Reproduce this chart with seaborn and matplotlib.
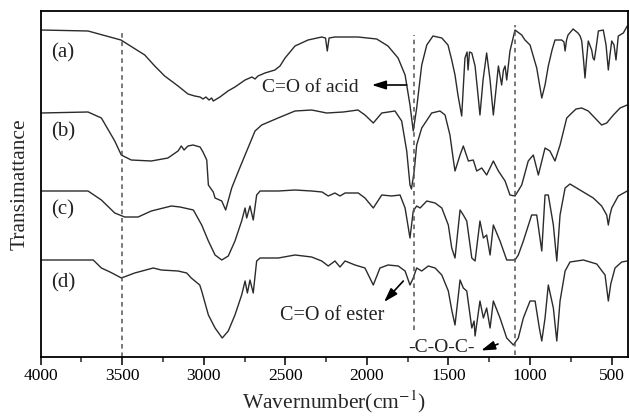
import matplotlib
matplotlib.use("Agg")
import matplotlib.pyplot as plt
import seaborn as sns
import pandas as pd
from matplotlib.ticker import MultipleLocator

# ---------------- data (transmittance in a.u.) ----------------
wn_a = [4000, 3710, 3508, 3362, 3301, 3240, 3158, 3097, 3056, 3023, 3005, 2987, 2968, 2952, 2942,
        2901, 2852, 2809, 2747, 2705, 2686, 2668, 2625, 2564, 2533, 2502, 2441, 2361, 2277, 2254,
        2243, 2232, 2196, 2055, 1940, 1871, 1809, 1766, 1736, 1716, 1695, 1664, 1633, 1595, 1541,
        1503, 1480, 1460, 1442, 1419, 1399, 1386, 1380, 1371, 1357, 1337, 1322, 1307, 1288, 1266,
        1245, 1225, 1209, 1194, 1174, 1163, 1153, 1143, 1123, 1092, 1051, 1031, 1000, 959, 928,
        908, 888, 865, 847, 806, 792, 785, 776, 767, 736, 706, 693, 683, 672, 663, 654, 643, 622,
        614, 606, 595, 581, 551, 534, 520, 510, 499, 485, 473, 459, 428, 404]
t_a = [327, 326, 317, 302, 291, 281, 271, 263, 261, 260, 258, 260, 257, 259, 256,
       260, 266, 270, 277, 280, 278, 281, 284, 287, 291, 299, 311, 317, 320, 319,
       306, 319, 320, 320, 318, 311, 299, 282, 252, 226, 249, 292, 312, 321, 319,
       312, 297, 282, 262, 241, 299, 305, 287, 305, 304, 291, 267, 242, 277, 304,
       277, 242, 267, 291, 272, 287, 291, 277, 306, 327, 322, 317, 312, 289, 259,
       272, 291, 307, 317, 317, 315, 306, 317, 322, 328, 324, 321, 316, 297, 279, 297, 316, 307,
       299, 297, 309, 326, 327, 312, 287, 302, 316, 312, 297, 321, 324, 331]

wn_b = [4000, 3710, 3628, 3546, 3506, 3445, 3322, 3220, 3158, 3138, 3121, 3097, 3066, 3023, 3005,
        2982, 2972, 2942, 2931, 2890, 2866, 2829, 2790, 2747, 2686, 2645, 2545, 2441, 2339, 2247,
        2145, 2055, 2012, 1961, 1909, 1828, 1787, 1756, 1736, 1727, 1710, 1695, 1664, 1603, 1552,
        1521, 1491, 1470, 1460, 1429, 1409, 1378, 1348, 1327, 1296, 1266, 1225, 1194, 1153, 1123,
        1092, 1051, 1011, 980, 949, 908, 878, 847, 816, 775, 744, 718, 683, 643, 602, 561, 530,
        489, 448, 404]
t_b = [244, 245, 239, 216, 202, 197, 196, 199, 206, 211, 207, 211, 212, 210, 205,
       197, 172, 165, 159, 156, 147, 169, 185, 202, 226, 232, 239, 246, 247, 244,
       245, 247, 242, 234, 244, 246, 236, 206, 172, 168, 186, 212, 229, 244, 246,
       242, 222, 197, 186, 202, 211, 196, 197, 186, 189, 182, 196, 186, 176, 162,
       161, 172, 196, 202, 182, 209, 206, 196, 212, 239, 244, 248, 249, 246, 239, 232, 234,
       242, 249, 252]

wn_c = [4000, 3710, 3628, 3546, 3485, 3403, 3322, 3199, 3146, 3064, 3013, 2972, 2931, 2890, 2850,
        2809, 2768, 2747, 2737, 2717, 2697, 2676, 2655, 2543, 2441, 2339, 2275, 2237, 2196, 2165,
        2134, 2053, 2012, 1961, 1909, 1848, 1797, 1766, 1746, 1736, 1716, 1695, 1674, 1633, 1582,
        1541, 1501, 1480, 1460, 1429, 1409, 1388, 1357, 1337, 1307, 1286, 1266, 1245, 1225, 1184,
        1143, 1092, 1072, 1041, 990, 959, 928, 908, 888, 857, 836, 816, 785, 755, 694, 612, 561,
        530, 520, 510, 499, 459, 404]
t_c = [166, 166, 157, 144, 140, 140, 146, 151, 150, 147, 132, 116, 102, 97, 101,
       116, 136, 149, 139, 151, 137, 162, 166, 166, 167, 166, 165, 161, 164, 161,
       164, 164, 159, 149, 162, 161, 162, 149, 129, 119, 146, 151, 149, 156, 154,
       149, 132, 109, 99, 147, 142, 136, 99, 96, 136, 119, 122, 102, 132, 116,
       97, 97, 102, 116, 142, 142, 106, 162, 162, 132, 96, 142, 169, 173, 167, 159, 151,
       142, 132, 142, 149, 161, 166]

wn_d = [4000, 3678, 3628, 3575, 3505, 3424, 3310, 3261, 3158, 3105, 3077, 3025, 3013, 2972, 2931,
        2887, 2850, 2809, 2768, 2747, 2733, 2717, 2697, 2676, 2655, 2543, 2441, 2339, 2277, 2237,
        2196, 2165, 2134, 2073, 2012, 1961, 1920, 1871, 1808, 1766, 1736, 1716, 1695, 1664, 1624,
        1582, 1541, 1501, 1480, 1460, 1429, 1409, 1388, 1357, 1343, 1337, 1307, 1286, 1266, 1245,
        1225, 1184, 1143, 1102, 1072, 1041, 1000, 969, 943, 928, 908, 888, 857, 836, 816, 785,
        755, 673, 591, 540, 520, 505, 479, 438, 404]
t_d = [97, 97, 89, 85, 79, 84, 89, 87, 86, 84, 79, 72, 66, 42, 29,
       19, 26, 42, 62, 76, 64, 77, 64, 96, 99, 99, 102, 100, 96, 91,
       96, 90, 96, 92, 89, 72, 89, 92, 91, 86, 72, 79, 89, 86, 91,
       89, 82, 66, 47, 32, 77, 69, 66, 29, 36, 21, 56, 39, 49, 29,
       56, 39, 19, 12, 19, 39, 56, 56, 29, 16, 39, 72, 49, 16, 56, 86,
       95, 97, 93, 82, 56, 73, 89, 95, 96]

series_labels = ["(a)", "(b)", "(c)", "(d)"]
label_t = [304, 225, 147, 74]
dashed_wn = [3500, 1710, 1095]
dashed_top = [325, 322, 332]
dashed_bottom = [0, 27, 2]
xticks = [4000, 3500, 3000, 2500, 2000, 1500, 1000, 500]

# ---------------- plotting ----------------
sns.set_theme(style="ticks")
plt.rcParams["font.family"] = ["Liberation Serif", "DejaVu Serif"]
plt.rcParams["mathtext.fontset"] = "stix"

fig = plt.figure(figsize=(6.30, 4.16), dpi=100)
ax = fig.add_axes([40.7 / 630, 59 / 416, 587.2 / 630, 346 / 416])

line_color = "#2b2b2b"
for wn, t in [(wn_a, t_a), (wn_b, t_b), (wn_c, t_c), (wn_d, t_d)]:
    df = pd.DataFrame({"wn": wn, "t": t})
    sns.lineplot(data=df, x="wn", y="t", ax=ax, color=line_color, linewidth=1.0,
                 estimator=None, sort=False)

for w, top, bot in zip(dashed_wn, dashed_top, dashed_bottom):
    ax.plot([w, w], [bot, top], linestyle=(0, (3, 2.5)), color="#555555", linewidth=1.1)

for lab, yv in zip(series_labels, label_t):
    ax.text(3935, yv, lab, fontsize=15, ha="left", va="center", color="#222222")

arrow_kw = dict(arrowstyle="-|>,head_length=0.7,head_width=0.22", color="black", lw=1.2,
                shrinkA=0, shrinkB=0)
ax.text(2643, 269, "C=O of acid", fontsize=14, ha="left", va="center", color="#222222")
ax.annotate("", xy=(1970, 272), xytext=(1756, 272), arrowprops=arrow_kw)
ax.text(2532, 42, "C=O of ester", fontsize=14.5, ha="left", va="center", color="#222222")
ax.annotate("", xy=(1895, 55), xytext=(1777, 76), arrowprops=arrow_kw)
ax.text(1748, 9.5, "-C-O-C-", fontsize=14, ha="left", va="center", color="#222222")
ax.annotate("", xy=(1300, 6.5), xytext=(1196, 13), arrowprops=arrow_kw)

ax.set_xlim(4000, 400)
ax.set_ylim(0, 346)
ax.set_xticks(xticks)
ax.set_xticklabels([str(v) for v in xticks])
ax.xaxis.set_minor_locator(MultipleLocator(250))
ax.tick_params(axis="x", which="major", direction="out", length=6, width=1.1,
               labelsize=12.5, pad=2, colors="black")
ax.tick_params(axis="x", which="minor", direction="out", length=3.5, width=1.1)
ax.set_yticks([])
for s in ax.spines.values():
    s.set_visible(True)
    s.set_linewidth(1.3)
    s.set_color("black")

ax.set_xlabel("Wavernumber(cm$^{-1}$)", fontsize=15.5, labelpad=3)
ax.set_ylabel("Transimattance", fontsize=15.5, labelpad=8)

fig.savefig("out.png", dpi=100)
